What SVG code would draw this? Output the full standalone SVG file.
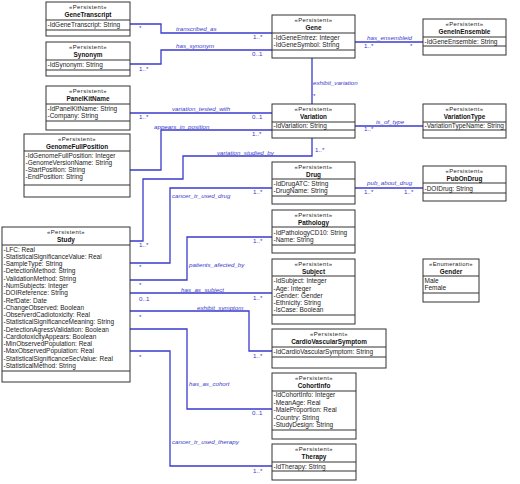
<svg xmlns="http://www.w3.org/2000/svg" width="520" height="484" viewBox="0 0 520 484">
<style>
.box{fill:#fff;stroke:#333;stroke-width:1}
.sep{stroke:#333;stroke-width:1}
.st{font-family:"Liberation Sans",Arial,sans-serif;font-size:5.9px;letter-spacing:0.45px;fill:#222;text-anchor:middle}
.nm{font-family:"Liberation Sans",Arial,sans-serif;font-size:6.4px;font-weight:bold;fill:#111;text-anchor:middle}
.at{font-family:"Liberation Sans",Arial,sans-serif;font-size:6.5px;fill:#222}
.cn{fill:none;stroke:#3a3acc;stroke-width:1.3}
.lb{font-family:"Liberation Sans",Arial,sans-serif;font-size:6.2px;font-style:italic;fill:#3a3acc}
.ml{font-family:"Liberation Sans",Arial,sans-serif;font-size:6.2px;fill:#3a3acc}
</style>
<rect width="520" height="484" fill="#fff"/>

<g id="connectors">
<path class="cn" d="M130,24 H161 V33 H272"/>
<path class="cn" d="M130,64 H161 V50 H272"/>
<path class="cn" d="M355,42 H423"/>
<path class="cn" d="M312,58 V104"/>
<path class="cn" d="M130,113 H272"/>
<path class="cn" d="M355,126 H423"/>
<path class="cn" d="M130,170 H161 V130 H272"/>
<path class="cn" d="M312,138 V156 H183 V179 H143 V241 H130"/>
<path class="cn" d="M130,263 H170 V188 H272"/>
<path class="cn" d="M355,188 H423"/>
<path class="cn" d="M130,280 H187 V237 H272"/>
<path class="cn" d="M130,293 H272"/>
<path class="cn" d="M130,311 H249 V351 H272"/>
<path class="cn" d="M130,329 H187 V409 H272"/>
<path class="cn" d="M130,351 H170 V466 H272"/>

<text class="lb" x="176" y="31">transcribed_as</text>
<text class="ml" x="139" y="30">*</text>
<text class="ml" x="253" y="39">1..*</text>
<text class="lb" x="176" y="48">has_synonym</text>
<text class="ml" x="252" y="55.5">0..1</text>
<text class="ml" x="139" y="70.5">1..*</text>
<text class="lb" x="367" y="40">has_ensembleid</text>
<text class="ml" x="364" y="47.5">1..*</text>
<text class="ml" x="410" y="48">*</text>
<text class="lb" x="313" y="85">exhibit_variation</text>
<text class="ml" x="313" y="98">*</text>
<text class="lb" x="172" y="111">variation_tested_with</text>
<text class="ml" x="252" y="119">0..1</text>
<text class="ml" x="139" y="119">1..*</text>
<text class="lb" x="376" y="124">is_of_type</text>
<text class="ml" x="364" y="131">1..*</text>
<text class="lb" x="154" y="129">appears_in_position</text>
<text class="ml" x="252" y="135.5">1..*</text>
<text class="lb" x="217" y="155">variation_studied_by</text>
<text class="ml" x="315" y="151.5">1..*</text>
<text class="ml" x="139" y="246.5">1..*</text>
<text class="lb" x="172" y="198">cancer_tr_used_drug</text>
<text class="ml" x="253" y="193.5">1..*</text>
<text class="ml" x="139" y="269">*</text>
<text class="lb" x="367" y="185">pub_about_drug</text>
<text class="ml" x="364" y="193.5">1..*</text>
<text class="ml" x="404" y="193.5">1..*</text>
<text class="lb" x="189" y="267">patients_afected_by</text>
<text class="ml" x="253" y="242.5">1..*</text>
<text class="ml" x="139" y="287">*</text>
<text class="lb" x="181" y="292">has_as_subject</text>
<text class="ml" x="253" y="300">1..*</text>
<text class="ml" x="139" y="300.5">0..1</text>
<text class="lb" x="197" y="310">exhibit_symptom</text>
<text class="ml" x="253" y="357.5">1..*</text>
<text class="ml" x="139" y="319">*</text>
<text class="lb" x="189" y="386">has_as_cohort</text>
<text class="ml" x="252" y="415">0..1</text>
<text class="lb" x="172" y="443.5">cancer_tr_used_therapy</text>
<text class="ml" x="253" y="472.5">1..*</text>
<text class="ml" x="139" y="359">*</text>
</g>

<g id="GeneTranscript">
<rect class="box" x="46" y="2" width="84" height="34"/>
<line class="sep" x1="46" y1="20" x2="130" y2="20"/>
<line class="sep" x1="46" y1="30" x2="130" y2="30"/>
<text class="st" x="88" y="9">«Persistent»</text>
<text class="nm" x="88" y="17">GeneTranscript</text>
<text class="at" x="47.5" y="27.3">-IdGeneTranscript: String</text>
</g>

<g id="Synonym">
<rect class="box" x="46" y="42" width="84" height="34"/>
<line class="sep" x1="46" y1="60" x2="130" y2="60"/>
<line class="sep" x1="46" y1="70" x2="130" y2="70"/>
<text class="st" x="88" y="49">«Persistent»</text>
<text class="nm" x="88" y="57">Synonym</text>
<text class="at" x="47.5" y="67.3">-IdSynonym: String</text>
</g>

<g id="PanelKitName">
<rect class="box" x="46" y="86" width="84" height="44"/>
<line class="sep" x1="46" y1="104" x2="130" y2="104"/>
<line class="sep" x1="46" y1="121" x2="130" y2="121"/>
<text class="st" x="88" y="93">«Persistent»</text>
<text class="nm" x="88" y="101">PanelKitName</text>
<text class="at" x="47.5" y="110.5">-IdPanelKitName: String</text>
<text class="at" x="47.5" y="117.8">-Company: String</text>
</g>

<g id="GenomeFullPosition">
<rect class="box" x="24" y="134" width="106" height="63"/>
<line class="sep" x1="24" y1="151" x2="130" y2="151"/>
<line class="sep" x1="24" y1="185" x2="130" y2="185"/>
<text class="st" x="77" y="141">«Persistent»</text>
<text class="nm" x="77" y="149">GenomeFullPosition</text>
<text class="at" x="25.5" y="157.5">-IdGenomeFullPosition: Integer</text>
<text class="at" x="25.5" y="164.8">-GenomeVersionName: String</text>
<text class="at" x="25.5" y="172.1">-StartPosition: String</text>
<text class="at" x="25.5" y="179.4">-EndPosition: String</text>
</g>

<g id="Study">
<rect class="box" x="2" y="227" width="128" height="155"/>
<line class="sep" x1="2" y1="245" x2="130" y2="245"/>
<line class="sep" x1="2" y1="371" x2="130" y2="371"/>
<text class="st" x="66" y="234">«Persistent»</text>
<text class="nm" x="66" y="242">Study</text>
<text class="at" x="3.5" y="251.5">-LFC: Real</text>
<text class="at" x="3.5" y="258.8">-StatisticalSignificanceValue: Real</text>
<text class="at" x="3.5" y="266.1">-SampleType: String</text>
<text class="at" x="3.5" y="273.3">-DetectionMethod: String</text>
<text class="at" x="3.5" y="280.6">-ValidationMethod: String</text>
<text class="at" x="3.5" y="287.9">-NumSubjects: Integer</text>
<text class="at" x="3.5" y="295.2">-DOIReference: String</text>
<text class="at" x="3.5" y="302.5">-RefDate: Date</text>
<text class="at" x="3.5" y="309.7">-ChangeObserved: Boolean</text>
<text class="at" x="3.5" y="317">-ObserverdCadiotoxicity: Real</text>
<text class="at" x="3.5" y="324.3">-StatisticalSignificanceMeaning: String</text>
<text class="at" x="3.5" y="331.6">-DetectionAgressValidation: Boolean</text>
<text class="at" x="3.5" y="338.9">-CardiotoxicityAppears: Boolean</text>
<text class="at" x="3.5" y="346.1">-MinObservedPopulation: Real</text>
<text class="at" x="3.5" y="353.4">-MaxObservedPopulation: Real</text>
<text class="at" x="3.5" y="360.7">-StatisticalSignificanceSecValue: Real</text>
<text class="at" x="3.5" y="368">-StatisticalMethod: String</text>
</g>

<g id="Gene">
<rect class="box" x="272" y="15" width="83" height="43"/>
<line class="sep" x1="272" y1="33" x2="355" y2="33"/>
<line class="sep" x1="272" y1="50" x2="355" y2="50"/>
<text class="st" x="313.5" y="22">«Persistent»</text>
<text class="nm" x="313.5" y="30">Gene</text>
<text class="at" x="273.5" y="39.5">-IdGeneEntrez: Integer</text>
<text class="at" x="273.5" y="46.6">-IdGeneSymbol: String</text>
</g>

<g id="GeneInEnsemble">
<rect class="box" x="423" y="19" width="83" height="36"/>
<line class="sep" x1="423" y1="37" x2="506" y2="37"/>
<line class="sep" x1="423" y1="46" x2="506" y2="46"/>
<text class="st" x="464.5" y="26">«Persistent»</text>
<text class="nm" x="464.5" y="34">GeneInEnsemble</text>
<text class="at" x="424.5" y="44.3">-IdGeneEnsemble: String</text>
</g>

<g id="Variation">
<rect class="box" x="272" y="104" width="83" height="34"/>
<line class="sep" x1="272" y1="122" x2="355" y2="122"/>
<line class="sep" x1="272" y1="130" x2="355" y2="130"/>
<text class="st" x="313.5" y="111">«Persistent»</text>
<text class="nm" x="313.5" y="119">Variation</text>
<text class="at" x="273.5" y="128.3">-IdVariation: String</text>
</g>

<g id="VariationType">
<rect class="box" x="423" y="104" width="83" height="34"/>
<line class="sep" x1="423" y1="122" x2="506" y2="122"/>
<line class="sep" x1="423" y1="130" x2="506" y2="130"/>
<text class="st" x="464.5" y="111">«Persistent»</text>
<text class="nm" x="464.5" y="119">VariationType</text>
<text class="at" x="424.5" y="128.3">-VariationTypeName: String</text>
</g>

<g id="Drug">
<rect class="box" x="272" y="162" width="83" height="42"/>
<line class="sep" x1="272" y1="179" x2="355" y2="179"/>
<line class="sep" x1="272" y1="196" x2="355" y2="196"/>
<text class="st" x="313.5" y="169">«Persistent»</text>
<text class="nm" x="313.5" y="177">Drug</text>
<text class="at" x="273.5" y="185.5">-IdDrugATC: String</text>
<text class="at" x="273.5" y="192.8">-DrugName: String</text>
</g>

<g id="PubOnDrug">
<rect class="box" x="423" y="166" width="83" height="35"/>
<line class="sep" x1="423" y1="183" x2="506" y2="183"/>
<line class="sep" x1="423" y1="193" x2="506" y2="193"/>
<text class="st" x="464.5" y="173">«Persistent»</text>
<text class="nm" x="464.5" y="181">PubOnDrug</text>
<text class="at" x="424.5" y="190.5">-DOIDrug: String</text>
</g>

<g id="Pathology">
<rect class="box" x="272" y="210" width="83" height="43"/>
<line class="sep" x1="272" y1="227" x2="355" y2="227"/>
<line class="sep" x1="272" y1="245" x2="355" y2="245"/>
<text class="st" x="313.5" y="217">«Persistent»</text>
<text class="nm" x="313.5" y="225">Pathology</text>
<text class="at" x="273.5" y="234.5">-IdPathologyCD10: String</text>
<text class="at" x="273.5" y="241.6">-Name: String</text>
</g>

<g id="Subject">
<rect class="box" x="272" y="259" width="83" height="65"/>
<line class="sep" x1="272" y1="276" x2="355" y2="276"/>
<line class="sep" x1="272" y1="315" x2="355" y2="315"/>
<text class="st" x="313.5" y="266">«Persistent»</text>
<text class="nm" x="313.5" y="274">Subject</text>
<text class="at" x="273.5" y="283.2">-IdSubject: Integer</text>
<text class="at" x="273.5" y="290.5">-Age: Integer</text>
<text class="at" x="273.5" y="297.8">-Gender: Gender</text>
<text class="at" x="273.5" y="305.1">-Ethnicity: String</text>
<text class="at" x="273.5" y="312.4">-IsCase: Boolean</text>
</g>

<g id="Gender">
<rect class="box" x="423" y="259" width="56" height="43"/>
<line class="sep" x1="423" y1="276" x2="479" y2="276"/>
<line class="sep" x1="423" y1="293" x2="479" y2="293"/>
<text class="st" x="451" y="266" style="letter-spacing:0.3px">«Enumeration»</text>
<text class="nm" x="451" y="274">Gender</text>
<text class="at" x="424.5" y="283.2">Male</text>
<text class="at" x="424.5" y="290.3">Female</text>
</g>

<g id="CardioVascularSymptom">
<rect class="box" x="272" y="329" width="114" height="39"/>
<line class="sep" x1="272" y1="347" x2="386" y2="347"/>
<line class="sep" x1="272" y1="357" x2="386" y2="357"/>
<text class="st" x="329" y="336">«Persistent»</text>
<text class="nm" x="329" y="344">CardioVascularSymptom</text>
<text class="at" x="273.5" y="353.5">-IdCardioVascularSymptom: String</text>
</g>

<g id="CohortInfo">
<rect class="box" x="272" y="373" width="84" height="66"/>
<line class="sep" x1="272" y1="391" x2="356" y2="391"/>
<line class="sep" x1="272" y1="430" x2="356" y2="430"/>
<text class="st" x="314" y="380">«Persistent»</text>
<text class="nm" x="314" y="388">CohortInfo</text>
<text class="at" x="273.5" y="397.3">-IdCohortInfo: Integer</text>
<text class="at" x="273.5" y="404.8">-MeanAge: Real</text>
<text class="at" x="273.5" y="412.3">-MaleProportion: Real</text>
<text class="at" x="273.5" y="419.8">-Country: String</text>
<text class="at" x="273.5" y="427.3">-StudyDesign: String</text>
</g>

<g id="Therapy">
<rect class="box" x="272" y="444" width="84" height="36"/>
<line class="sep" x1="272" y1="462" x2="356" y2="462"/>
<line class="sep" x1="272" y1="471" x2="356" y2="471"/>
<text class="st" x="314" y="451">«Persistent»</text>
<text class="nm" x="314" y="459">Therapy</text>
<text class="at" x="273.5" y="468.8">-IdTherapy: String</text>
</g>
</svg>
